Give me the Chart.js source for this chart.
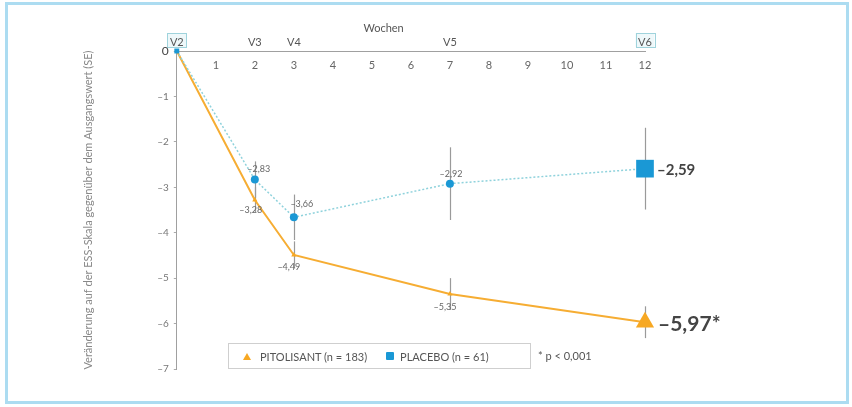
<!DOCTYPE html>
<html>
<head>
<meta charset="utf-8">
<script src="https://cdn.jsdelivr.net/npm/chart.js@4/dist/chart.umd.min.js"></script>
<style>
  body { margin: 0; background: #fff; }
  #wrap { position: relative; width: 852px; height: 407px; overflow: hidden; }
  #frame { position: absolute; left: 5px; top: 2px; width: 838px; height: 396px; border: 3px solid #acdcf1; pointer-events: none; }
  canvas { position: absolute; left: 0; top: 0; }
  #legend { position: absolute; left: 228px; top: 343px; width: 301px; height: 24px; border: 1px solid #cfcfcf;
    font: 11px Lato, sans-serif; color: #555; display: flex; align-items: center; white-space: nowrap; }
  .tri { display: inline-block; width: 0; height: 0; border-left: 4px solid transparent; border-right: 4px solid transparent;
    border-bottom: 7px solid #f7a823; margin: 0 9px 0 14px; }
  .sq { display: inline-block; width: 8px; height: 8px; background: #1a98d5; border-radius: 1px; margin: 0 6px 0 19px; }
  #pnote { position: absolute; left: 538px; top: 349px; font: 11px Lato, sans-serif; color: #555; }
</style>
</head>
<body>
<div id="wrap">
  <canvas id="essChart" width="852" height="407"></canvas>
  <div id="frame"></div>
  <div id="legend"><span class="tri"></span>PITOLISANT (n = 183)<span class="sq"></span>PLACEBO (n = 61)</div>
  <div id="pnote">* p &lt; 0,001</div>
</div>
<script>
const weeks = [0, 2, 3, 7, 12];
const pitolisant = [0, -3.28, -4.49, -5.35, -5.97];
const placebo = [0, -2.83, -3.66, -2.92, -2.59];

// SE whiskers
const pitoLow = [null, -3.55, -4.79, -5.70, -6.32];
const pitoHigh = [null, -3.00, -4.19, -5.00, -5.62];
const placLow = [null, -3.23, -4.16, -3.72, -3.49];
const placHigh = [null, -2.43, -3.16, -2.12, -1.69];

const weekTicks = [1, 2, 3, 4, 5, 6, 7, 8, 9, 10, 11, 12];
const visitTicks = [0, 2, 3, 7, 12];
const visitLabels = ["V2", "V3", "V4", "V5", "V6"];
const yTicks = [0, -1, -2, -3, -4, -5, -6, -7];

const ORANGE = "#f7a823";
const BLUE = "#1a98d5";

const fmt = v => (v < 0 ? "\u2013" : "") + Math.abs(v).toFixed(2).replace(".", ",");

// label offsets for the small value labels [dx, dy]
const pitoOffsets = [null, [-4, 10], [-5, 12], [-5, 13], null];
const placOffsets = [null, [4, -10], [8, -13], [1, -10], null];

const overlay = {
  id: "overlay",
  beforeDraw(chart) {
    // boxes behind V2 / V6
    const { ctx } = chart;
    const xv = chart.scales.xv;
    ctx.save();
    ctx.font = "11px Lato";
    [0, 12].forEach(v => {
      const lbl = visitLabels[visitTicks.indexOf(v)];
      const w = ctx.measureText(lbl).width + 5;
      const px = xv.getPixelForValue(v);
      const top = xv.bottom - 18;
      ctx.fillStyle = "#eef8fa";
      ctx.strokeStyle = "#9fd3dc";
      ctx.lineWidth = 1;
      ctx.fillRect(px - w / 2, top, w, 14);
      ctx.strokeRect(Math.round(px - w / 2) + 0.5, Math.round(top) + 0.5, Math.round(w), 14);
    });
    ctx.restore();
  },
  beforeDatasetsDraw(chart) {
    const { ctx, scales: { x, y } } = chart;
    ctx.save();
    ctx.strokeStyle = "#9a9a9a";
    ctx.lineWidth = 1.2;
    const bars = (lo, hi) => {
      weeks.forEach((w, i) => {
        if (lo[i] == null) return;
        const px = Math.round(x.getPixelForValue(w)) + 0.5;
        ctx.beginPath();
        ctx.moveTo(px, y.getPixelForValue(lo[i]));
        ctx.lineTo(px, y.getPixelForValue(hi[i]));
        ctx.stroke();
      });
    };
    bars(placLow, placHigh);
    bars(pitoLow, pitoHigh);
    ctx.restore();
  },
  afterDatasetsDraw(chart) {
    const { ctx, scales: { x, y } } = chart;
    ctx.save();
    ctx.font = "9px Lato";
    ctx.fillStyle = "#666";
    ctx.textAlign = "center";
    ctx.textBaseline = "middle";
    weeks.forEach((w, i) => {
      if (pitoOffsets[i]) {
        ctx.fillText(fmt(pitolisant[i]), x.getPixelForValue(w) + pitoOffsets[i][0], y.getPixelForValue(pitolisant[i]) + pitoOffsets[i][1]);
      }
      if (placOffsets[i]) {
        ctx.fillText(fmt(placebo[i]), x.getPixelForValue(w) + placOffsets[i][0], y.getPixelForValue(placebo[i]) + placOffsets[i][1]);
      }
    });

    // end values
    const last = weeks.length - 1;
    ctx.textAlign = "left";
    ctx.fillStyle = "#444";
    ctx.font = "bold 15px Lato";
    ctx.fillText(fmt(placebo[last]), x.getPixelForValue(weeks[last]) + 12, y.getPixelForValue(placebo[last]) + 1);
    ctx.font = "bold 21px Lato";
    ctx.fillText(fmt(pitolisant[last]) + "*", x.getPixelForValue(weeks[last]) + 13, y.getPixelForValue(pitolisant[last]) + 2);

    ctx.font = "11px Lato";
    ctx.fillStyle = "#555";
    ctx.textAlign = "center";
    ctx.fillText("Wochen", x.getPixelForValue(5.3), chart.scales.xv.top - 5);
    ctx.restore();
  }
};

new Chart(document.getElementById("essChart"), {
  type: "line",
  data: {
    datasets: [
      {
        label: "PLACEBO (n = 61)",
        data: weeks.map((w, i) => ({ x: w, y: placebo[i] })),
        borderColor: "#8fd2dc",
        borderWidth: 1.5,
        borderDash: [2, 2],
        pointStyle: ["rect", "circle", "circle", "circle", "rect"],
        pointRadius: [3.5, 4, 4, 4, 12.5],
        pointBackgroundColor: BLUE,
        pointBorderWidth: 0,
        clip: false
      },
      {
        label: "PITOLISANT (n = 183)",
        data: weeks.map((w, i) => ({ x: w, y: pitolisant[i] })),
        borderColor: "#f6ad33",
        borderWidth: 2,
        pointStyle: "triangle",
        pointRadius: [0, 3, 3, 3, 10.5],
        pointBackgroundColor: ORANGE,
        pointBorderWidth: 0,
        clip: false
      }
    ]
  },
  options: {
    responsive: false,
    animation: false,
    layout: { padding: { top: 33, left: 82, right: 207, bottom: 38 } },
    plugins: { legend: { display: false }, tooltip: { enabled: false } },
    scales: {
      x: {
        type: "linear",
        position: "top",
        min: 0,
        max: 12,
        weight: 0,
        grid: { display: false, drawTicks: false },
        border: { display: true, color: "#a0a0a0", width: 1 },
        afterBuildTicks: s => { s.ticks = weekTicks.map(v => ({ value: v })); },
        // numbers sit below the top axis line
        afterFit: s => { s.height = 0; },
        ticks: {
          mirror: true,
          padding: 7.4,
          maxRotation: 0,
          autoSkip: false,
          color: "#666",
          font: { family: "Lato", size: 11 }
        }
      },
      xv: {
        type: "linear",
        position: "top",
        min: 0,
        max: 12,
        weight: 1,
        grid: { display: false, drawTicks: false },
        border: { display: false },
        afterBuildTicks: s => { s.ticks = visitTicks.map(v => ({ value: v })); },
        ticks: {
          padding: 2.4,
          maxRotation: 0,
          autoSkip: false,
          color: "#555",
          font: { family: "Lato", size: 11 },
          callback: v => visitLabels[visitTicks.indexOf(v)]
        }
      },
      y: {
        min: -7,
        max: 0,
        afterBuildTicks: s => { s.ticks = yTicks.map(v => ({ value: v })); },
        grid: { display: true, drawOnChartArea: false, tickLength: 3, color: "#aaa" },
        border: { display: true, color: "#a0a0a0", width: 1 },
        title: {
          display: true,
          text: "Veränderung auf der ESS-Skala gegenüber dem Ausgangswert (SE)",
          color: "#888",
          font: { family: "Lato", size: 11 },
          padding: { top: 0, bottom: 57 }
        },
        ticks: {
          padding: 5,
          color: c => (c.tick && c.tick.value === 0 ? "#444" : "#777"),
          font: c => ({ family: "Lato", size: c.tick && c.tick.value === 0 ? 12 : 10 }),
          callback: v => (v < 0 ? "\u2013" + Math.abs(v) : String(v))
        }
      }
    }
  },
  plugins: [overlay]
});
</script>
</body>
</html>
